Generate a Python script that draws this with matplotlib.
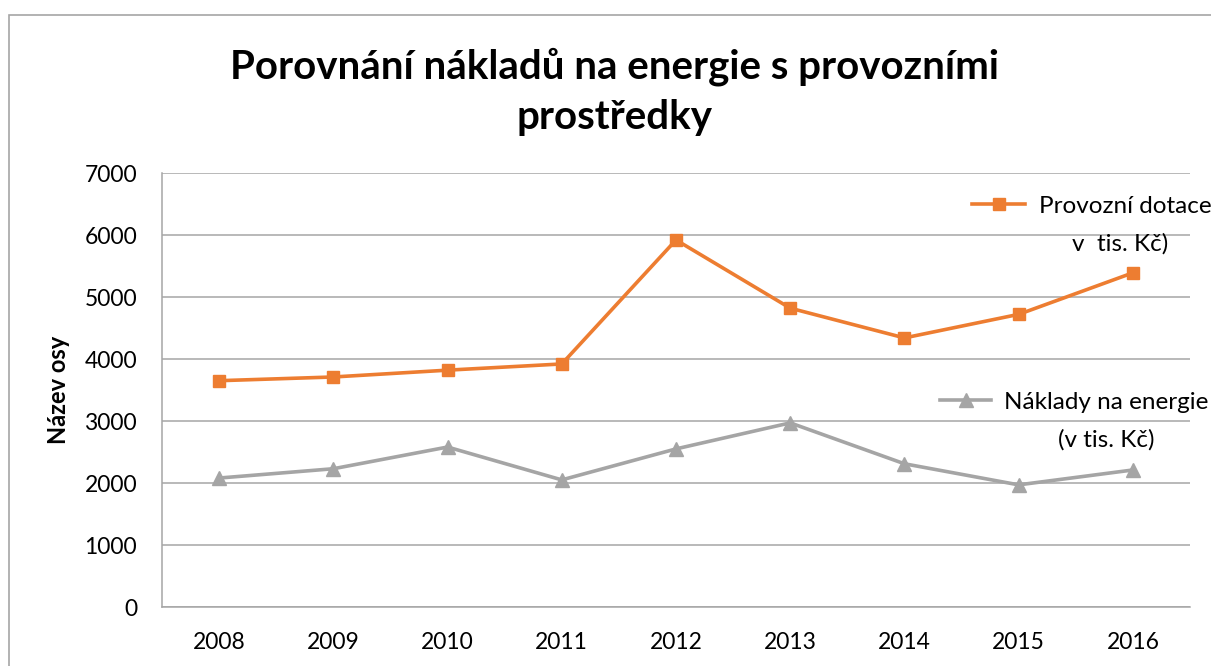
import matplotlib
matplotlib.use('Agg')
import matplotlib.pyplot as plt
from matplotlib.patches import Rectangle

plt.rcParams['font.family'] = ['Lato', 'DejaVu Sans']

# Data
years = ['2008', '2009', '2010', '2011', '2012', '2013', '2014', '2015', '2016']
provozni_dotace = [3650, 3710, 3820, 3920, 5920, 4820, 4340, 4720, 5390]
naklady_energie = [2080, 2230, 2580, 2050, 2550, 2970, 2310, 1970, 2210]

orange = '#ED7D31'
gray = '#A5A5A5'
axis_gray = '#A6A6A6'

W, H = 1211, 666
fig = plt.figure(figsize=(W / 100, H / 100), dpi=100)
fig.patch.set_facecolor('white')

# Outer chart frame (cut off at right and bottom)
fig.add_artist(Rectangle((9 / W, -0.1), 1.2, 1.1 - 15 / H, transform=fig.transFigure,
                         facecolor='none', edgecolor=axis_gray, linewidth=1.2))

ax = fig.add_axes([162 / W, 1 - 607 / H, (1190 - 162) / W, (607 - 173) / H])

x = range(len(years))
l1, = ax.plot(x, provozni_dotace, color=orange, linewidth=2.6, marker='s',
              markersize=9, label='Provozní dotace', zorder=3)
l2, = ax.plot(x, naklady_energie, color=gray, linewidth=2.6, marker='^',
              markersize=10, label='Náklady na energie', zorder=3)

ax.set_xlim(-0.5, len(years) - 0.5)
ax.set_ylim(0, 7000)
ax.set_yticks(range(0, 7001, 1000))
ax.set_xticks(list(x))
ax.set_xticklabels(years)
ax.tick_params(axis='both', length=0, labelsize=16.5, colors='black')
ax.tick_params(axis='y', pad=18)
ax.tick_params(axis='x', pad=18)
ax.yaxis.grid(True, color=axis_gray, linewidth=1.1)
ax.set_axisbelow(True)
for s in ['top', 'right']:
    ax.spines[s].set_visible(False)
for s in ['left', 'bottom']:
    ax.spines[s].set_color(axis_gray)
    ax.spines[s].set_linewidth(1.1)

ax.set_ylabel('Název osy', fontsize=17, fontweight='bold', labelpad=10)

# Title
fig.text(615 / W, 1 - 67 / H, 'Porovnání nákladů na energie s provozními',
         ha='center', va='center', fontsize=29, fontweight='bold')
fig.text(615 / W, 1 - 117 / H, 'prostředky',
         ha='center', va='center', fontsize=29, fontweight='bold')

# Legends
leg1 = fig.legend(handles=[l1], loc='center left', bbox_to_anchor=(972 / W, 1 - 206 / H),
                  frameon=False, fontsize=17.5, handlelength=2.2, handletextpad=0.55,
                  borderpad=0, borderaxespad=0)
leg2 = fig.legend(handles=[l2], loc='center left', bbox_to_anchor=(940 / W, 1 - 402 / H),
                  frameon=False, fontsize=17.5, handlelength=2.1, handletextpad=0.55,
                  borderpad=0, borderaxespad=0)
fig.text(1120 / W, 1 - 244 / H, 'v  tis. Kč)', ha='center', va='center', fontsize=17.5)
fig.text(1106 / W, 1 - 440 / H, '(v tis. Kč)', ha='center', va='center', fontsize=17.5)

fig.savefig('out.png', dpi=100, facecolor='white')
